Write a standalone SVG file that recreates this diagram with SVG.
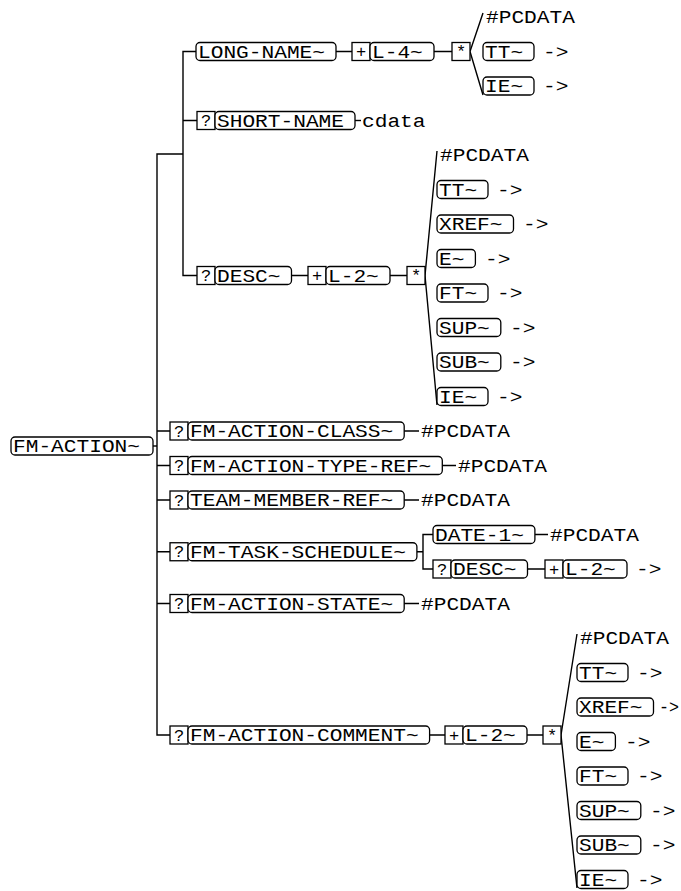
<svg xmlns="http://www.w3.org/2000/svg" width="681" height="891" viewBox="0 0 681 891">
<style>
.r{fill:#fff;stroke:#000;stroke-width:1.3}
.s{fill:#fff;stroke:#000;stroke-width:1.3}
text{font-family:"Liberation Mono","DejaVu Sans Mono",monospace;font-size:18px;fill:#000}
.m{text-anchor:middle;font-size:17px}
.c{fill:none;stroke:#000;stroke-width:1.4}
</style>
<rect width="681" height="891" fill="#fff"/>
<g id="connectors" class="c">
<path d="M153 446H157"/>
<path d="M183 154H157V735H170"/>
<path d="M157 431H170M157 465.5H170M157 500H170M157 551.75H170M157 603.5H170"/>
<path d="M196 51.5H183V275.5H197M183 120.5H197"/>
<path d="M336 51.5H352M434 51.5H452M470 51.5L483 13M470 51.5L483 95"/>
<path d="M355 120.5H361"/>
<path d="M291.5 275.5H308M390 275.5H407M425 275.5L437 151M425 275.5L437 405"/>
<path d="M404 431H419M442 465.5H456M404 500H419M404 603.5H419"/>
<path d="M417 551.75H423M433 534.5H423V569H433M535 534.5H548M527.5 569H545"/>
<path d="M429.6 735H445M527 735H543M561 735L577 634M561 735L577 888"/>
</g>
<g id="fm-action"><rect class="r" x="11" y="437" width="142" height="18" rx="4"/><text x="13" y="452" textLength="127" lengthAdjust="spacingAndGlyphs">FM-ACTION~</text></g>
<g id="long-name"><rect class="r" x="196" y="42.5" width="140" height="18" rx="4"/><text x="198" y="57.5" textLength="127" lengthAdjust="spacingAndGlyphs">LONG-NAME~</text></g>
<g id="ln-plus"><rect class="s" x="352" y="42.5" width="18" height="18"/><text class="m" x="361" y="57">+</text></g>
<g id="ln-l4"><rect class="r" x="370" y="42.5" width="64" height="18" rx="4"/><text x="372" y="57.5" textLength="50.8" lengthAdjust="spacingAndGlyphs">L-4~</text></g>
<g id="ln-star"><rect class="s" x="452" y="42.5" width="18" height="18"/><text class="m" x="461" y="57">*</text></g>
<g id="ln-pcdata"><text x="486" y="23" textLength="88.9" lengthAdjust="spacingAndGlyphs">#PCDATA</text></g>
<g id="ln-tt"><rect class="r" x="483" y="42.5" width="51" height="18" rx="4"/><text x="485" y="57.5" textLength="38.1" lengthAdjust="spacingAndGlyphs">TT~</text><text x="543" y="57.5" textLength="25.4" lengthAdjust="spacingAndGlyphs">-&gt;</text></g>
<g id="ln-ie"><rect class="r" x="483" y="77" width="51" height="18" rx="4"/><text x="485" y="92" textLength="38.1" lengthAdjust="spacingAndGlyphs">IE~</text><text x="543" y="92" textLength="25.4" lengthAdjust="spacingAndGlyphs">-&gt;</text></g>
<g id="short-name"><rect class="s" x="197" y="111.5" width="18" height="18"/><text class="m" x="206" y="126">?</text><rect class="r" x="215" y="111.5" width="140" height="18" rx="4"/><text x="217" y="126.5" textLength="127" lengthAdjust="spacingAndGlyphs">SHORT-NAME</text><text x="362" y="126.5" textLength="63.5" lengthAdjust="spacingAndGlyphs">cdata</text></g>
<g id="desc"><rect class="s" x="197" y="266.5" width="18" height="18"/><text class="m" x="206" y="281">?</text><rect class="r" x="215" y="266.5" width="76.5" height="18" rx="4"/><text x="217" y="281.5" textLength="63.5" lengthAdjust="spacingAndGlyphs">DESC~</text></g>
<g id="desc-plus"><rect class="s" x="308" y="266.5" width="18" height="18"/><text class="m" x="317" y="281">+</text></g>
<g id="desc-l2"><rect class="r" x="326" y="266.5" width="64" height="18" rx="4"/><text x="328" y="281.5" textLength="50.8" lengthAdjust="spacingAndGlyphs">L-2~</text></g>
<g id="desc-star"><rect class="s" x="407" y="266.5" width="18" height="18"/><text class="m" x="416" y="281">*</text></g>
<g id="d-pcdata"><text x="440" y="161" textLength="88.9" lengthAdjust="spacingAndGlyphs">#PCDATA</text></g>
<g id="d-tt"><rect class="r" x="437" y="180.5" width="51" height="18" rx="4"/><text x="439" y="195.5" textLength="38.1" lengthAdjust="spacingAndGlyphs">TT~</text><text x="497" y="195.5" textLength="25.4" lengthAdjust="spacingAndGlyphs">-&gt;</text></g>
<g id="d-xref"><rect class="r" x="437" y="215" width="76.5" height="18" rx="4"/><text x="439" y="230" textLength="63.5" lengthAdjust="spacingAndGlyphs">XREF~</text><text x="523" y="230" textLength="25.4" lengthAdjust="spacingAndGlyphs">-&gt;</text></g>
<g id="d-e"><rect class="r" x="437" y="249.5" width="38.4" height="18" rx="4"/><text x="439" y="264.5" textLength="25.4" lengthAdjust="spacingAndGlyphs">E~</text><text x="485" y="264.5" textLength="25.4" lengthAdjust="spacingAndGlyphs">-&gt;</text></g>
<g id="d-ft"><rect class="r" x="437" y="284" width="51" height="18" rx="4"/><text x="439" y="299" textLength="38.1" lengthAdjust="spacingAndGlyphs">FT~</text><text x="497" y="299" textLength="25.4" lengthAdjust="spacingAndGlyphs">-&gt;</text></g>
<g id="d-sup"><rect class="r" x="437" y="318.5" width="63.8" height="18" rx="4"/><text x="439" y="333.5" textLength="50.8" lengthAdjust="spacingAndGlyphs">SUP~</text><text x="510" y="333.5" textLength="25.4" lengthAdjust="spacingAndGlyphs">-&gt;</text></g>
<g id="d-sub"><rect class="r" x="437" y="353" width="63.8" height="18" rx="4"/><text x="439" y="368" textLength="50.8" lengthAdjust="spacingAndGlyphs">SUB~</text><text x="510" y="368" textLength="25.4" lengthAdjust="spacingAndGlyphs">-&gt;</text></g>
<g id="d-ie"><rect class="r" x="437" y="387.5" width="51" height="18" rx="4"/><text x="439" y="402.5" textLength="38.1" lengthAdjust="spacingAndGlyphs">IE~</text><text x="497" y="402.5" textLength="25.4" lengthAdjust="spacingAndGlyphs">-&gt;</text></g>
<g id="fm-action-class"><rect class="s" x="170" y="422" width="18" height="18"/><text class="m" x="179" y="436.5">?</text><rect class="r" x="188" y="422" width="216.2" height="18" rx="4"/><text x="190" y="437" textLength="203.2" lengthAdjust="spacingAndGlyphs">FM-ACTION-CLASS~</text><text x="421" y="437" textLength="88.9" lengthAdjust="spacingAndGlyphs">#PCDATA</text></g>
<g id="fm-action-type-ref"><rect class="s" x="170" y="456.5" width="18" height="18"/><text class="m" x="179" y="471">?</text><rect class="r" x="188" y="456.5" width="254.3" height="18" rx="4"/><text x="190" y="471.5" textLength="241.3" lengthAdjust="spacingAndGlyphs">FM-ACTION-TYPE-REF~</text><text x="458" y="471.5" textLength="88.9" lengthAdjust="spacingAndGlyphs">#PCDATA</text></g>
<g id="team-member-ref"><rect class="s" x="170" y="491" width="18" height="18"/><text class="m" x="179" y="505.5">?</text><rect class="r" x="188" y="491" width="216.2" height="18" rx="4"/><text x="190" y="506" textLength="203.2" lengthAdjust="spacingAndGlyphs">TEAM-MEMBER-REF~</text><text x="421" y="506" textLength="88.9" lengthAdjust="spacingAndGlyphs">#PCDATA</text></g>
<g id="fm-task-schedule"><rect class="s" x="170" y="542.75" width="18" height="18"/><text class="m" x="179" y="557.25">?</text><rect class="r" x="188" y="542.75" width="228.9" height="18" rx="4"/><text x="190" y="557.75" textLength="215.9" lengthAdjust="spacingAndGlyphs">FM-TASK-SCHEDULE~</text></g>
<g id="date-1"><rect class="r" x="433" y="525.5" width="101.9" height="18" rx="4"/><text x="435" y="540.5" textLength="88.9" lengthAdjust="spacingAndGlyphs">DATE-1~</text><text x="550" y="540.5" textLength="88.9" lengthAdjust="spacingAndGlyphs">#PCDATA</text></g>
<g id="ts-desc"><rect class="s" x="433" y="560" width="18" height="18"/><text class="m" x="442" y="574.5">?</text><rect class="r" x="451" y="560" width="76.5" height="18" rx="4"/><text x="453" y="575" textLength="63.5" lengthAdjust="spacingAndGlyphs">DESC~</text></g>
<g id="ts-l2"><rect class="s" x="545" y="560" width="18" height="18"/><text class="m" x="554" y="574.5">+</text><rect class="r" x="563" y="560" width="64" height="18" rx="4"/><text x="565" y="575" textLength="50.8" lengthAdjust="spacingAndGlyphs">L-2~</text><text x="636" y="575" textLength="25.4" lengthAdjust="spacingAndGlyphs">-&gt;</text></g>
<g id="fm-action-state"><rect class="s" x="170" y="594.5" width="18" height="18"/><text class="m" x="179" y="609">?</text><rect class="r" x="188" y="594.5" width="216.2" height="18" rx="4"/><text x="190" y="609.5" textLength="203.2" lengthAdjust="spacingAndGlyphs">FM-ACTION-STATE~</text><text x="421" y="609.5" textLength="88.9" lengthAdjust="spacingAndGlyphs">#PCDATA</text></g>
<g id="fm-action-comment"><rect class="s" x="170" y="726" width="18" height="18"/><text class="m" x="179" y="740.5">?</text><rect class="r" x="188" y="726" width="241.6" height="18" rx="4"/><text x="190" y="741" textLength="228.6" lengthAdjust="spacingAndGlyphs">FM-ACTION-COMMENT~</text></g>
<g id="c-plus"><rect class="s" x="445" y="726" width="18" height="18"/><text class="m" x="454" y="740.5">+</text></g>
<g id="c-l2"><rect class="r" x="463" y="726" width="64" height="18" rx="4"/><text x="465" y="741" textLength="50.8" lengthAdjust="spacingAndGlyphs">L-2~</text></g>
<g id="c-star"><rect class="s" x="543" y="726" width="18" height="18"/><text class="m" x="552" y="740.5">*</text></g>
<g id="c-pcdata"><text x="580" y="644" textLength="88.9" lengthAdjust="spacingAndGlyphs">#PCDATA</text></g>
<g id="c-tt"><rect class="r" x="577" y="663.5" width="51" height="18" rx="4"/><text x="579" y="678.5" textLength="38.1" lengthAdjust="spacingAndGlyphs">TT~</text><text x="637" y="678.5" textLength="25.4" lengthAdjust="spacingAndGlyphs">-&gt;</text></g>
<g id="c-xref"><rect class="r" x="577" y="698" width="76.5" height="18" rx="4"/><text x="579" y="713" textLength="63.5" lengthAdjust="spacingAndGlyphs">XREF~</text><text x="659" y="713" textLength="20" lengthAdjust="spacingAndGlyphs">-&gt;</text></g>
<g id="c-e"><rect class="r" x="577" y="732.5" width="38.4" height="18" rx="4"/><text x="579" y="747.5" textLength="25.4" lengthAdjust="spacingAndGlyphs">E~</text><text x="625" y="747.5" textLength="25.4" lengthAdjust="spacingAndGlyphs">-&gt;</text></g>
<g id="c-ft"><rect class="r" x="577" y="767" width="51" height="18" rx="4"/><text x="579" y="782" textLength="38.1" lengthAdjust="spacingAndGlyphs">FT~</text><text x="637" y="782" textLength="25.4" lengthAdjust="spacingAndGlyphs">-&gt;</text></g>
<g id="c-sup"><rect class="r" x="577" y="801.5" width="63.8" height="18" rx="4"/><text x="579" y="816.5" textLength="50.8" lengthAdjust="spacingAndGlyphs">SUP~</text><text x="650" y="816.5" textLength="25.4" lengthAdjust="spacingAndGlyphs">-&gt;</text></g>
<g id="c-sub"><rect class="r" x="577" y="836" width="63.8" height="18" rx="4"/><text x="579" y="851" textLength="50.8" lengthAdjust="spacingAndGlyphs">SUB~</text><text x="650" y="851" textLength="25.4" lengthAdjust="spacingAndGlyphs">-&gt;</text></g>
<g id="c-ie"><rect class="r" x="577" y="870.5" width="51" height="18" rx="4"/><text x="579" y="885.5" textLength="38.1" lengthAdjust="spacingAndGlyphs">IE~</text><text x="637" y="885.5" textLength="25.4" lengthAdjust="spacingAndGlyphs">-&gt;</text></g>
</svg>
